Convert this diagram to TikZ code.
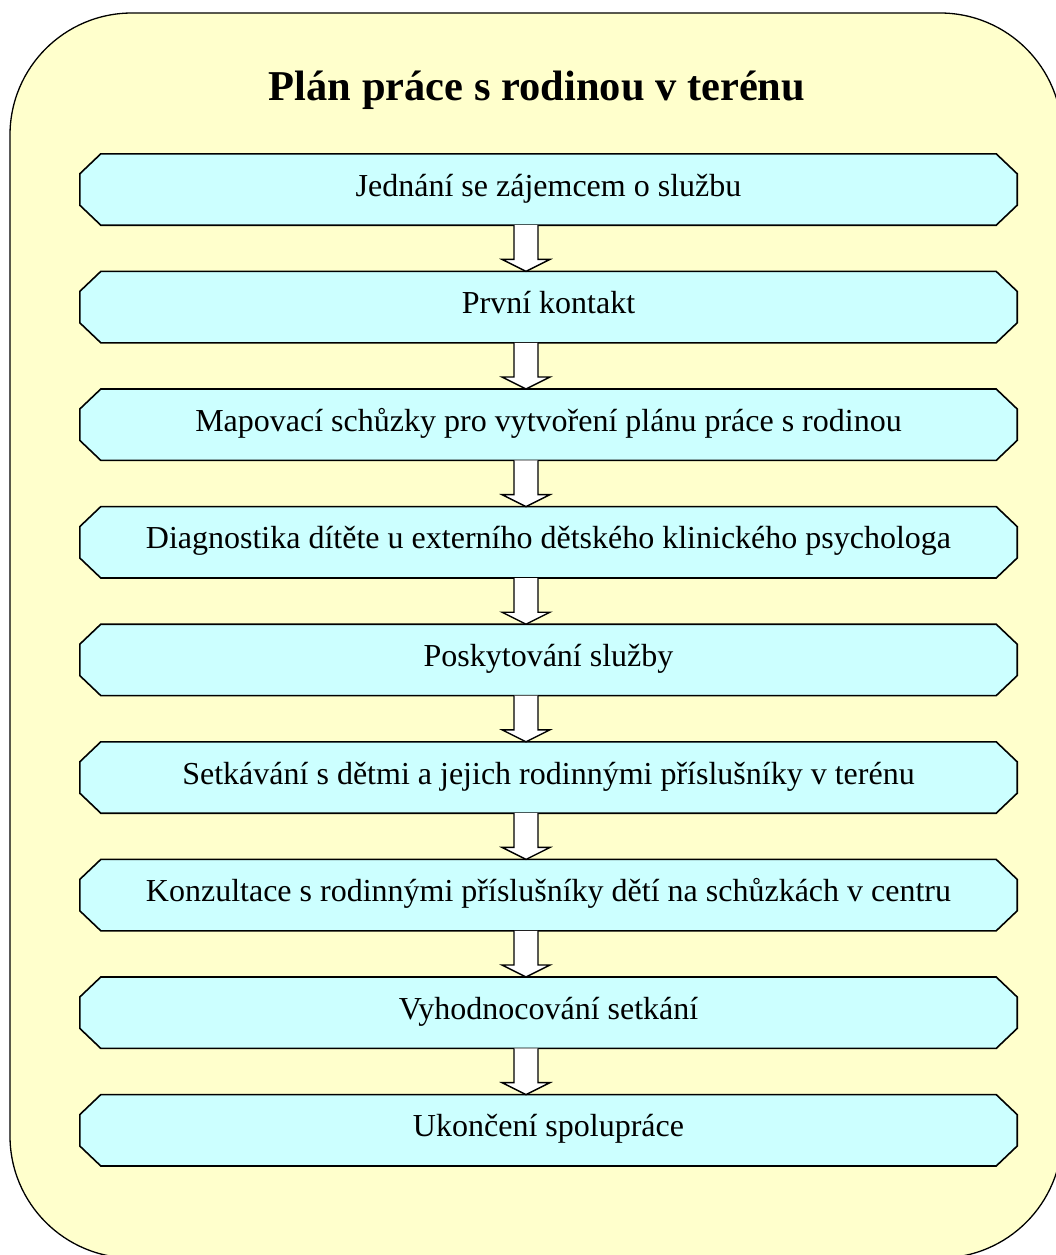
\documentclass[tikz,border=0pt]{standalone}
\usepackage{fontspec}
\setmainfont{Liberation Serif}
\usepackage{tikz}
\usetikzlibrary{backgrounds}

\definecolor{pozadi}{HTML}{FFFFCC}
\definecolor{tyrkys}{HTML}{CCFFFF}

\tikzset{
  krok/.style={rectangle, minimum width=937pt, minimum height=71pt,
    text height=20pt, text depth=7pt, font=\fontsize{32}{38}\selectfont},
  okraj/.style={draw=black, line width=1.6pt, fill=tyrkys, line join=miter},
  sipka/.style={draw=black, line width=1.4pt, fill=white, line join=miter}
}

\begin{document}
\begin{tikzpicture}[x=1pt,y=-1pt]
        \tikzstyle{every node}+=[inner sep=0pt]
        \useasboundingbox (0,0) rectangle (1056,1255);
        \clip (0,0) rectangle (1056,1255);
        \node [font=\bfseries\fontsize{42.5}{50}\selectfont, anchor=base] (nadpis) at (537,100) {Plán práce s rodinou v terénu};
        \node [krok] (zajemce) at (548.5,189.5) {Jednání se zájemcem o službu};
        \node [krok] (kontakt) at (548.5,307.1) {První kontakt};
        \node [krok] (mapovani) at (548.5,424.7) {Mapovací schůzky pro vytvoření plánu práce s rodinou};
        \node [krok] (diagnostika) at (548.5,542.3) {Diagnostika dítěte u externího dětského klinického psychologa};
        \node [krok] (sluzba) at (548.5,659.9) {Poskytování služby};
        \node [krok] (setkavani) at (548.5,777.5) {Setkávání s dětmi a jejich rodinnými příslušníky v terénu};
        \node [krok] (konzultace) at (548.5,895.1) {Konzultace s rodinnými příslušníky dětí na schůzkách v centru};
        \node [krok] (vyhodnoceni) at (548.5,1012.7) {Vyhodnocování setkání};
        \node [krok] (ukonceni) at (548.5,1130.3) {Ukončení spolupráce};
        \begin{scope}[on background layer]
        \draw [black, line width=1.3pt, fill=pozadi, rounded corners=122pt] (10,13) rectangle (1062,1258);
        % zkosené rámečky kroků
        \foreach \k in {zajemce,kontakt,mapovani,diagnostika,sluzba,setkavani,konzultace,vyhodnoceni,ukonceni}
          \draw [okraj] ([xshift=21pt]\k.north west) -- ([xshift=-21pt]\k.north east) -- ([yshift=-20pt]\k.north east) -- ([yshift=20pt]\k.south east) -- ([xshift=-21pt]\k.south east) -- ([xshift=21pt]\k.south west) -- ([yshift=20pt]\k.south west) -- ([yshift=-20pt]\k.north west) -- cycle;
        \end{scope}
        % duté šipky mezi kroky
        \draw [sipka] ([xshift=-34.5pt]zajemce.south) -- ([xshift=-34.5pt,yshift=12pt]kontakt.north) -- ([xshift=-46.5pt,yshift=12pt]kontakt.north) -- ([xshift=-22.5pt]kontakt.north) -- ([xshift=1.5pt,yshift=12pt]kontakt.north) -- ([xshift=-10.5pt,yshift=12pt]kontakt.north) -- ([xshift=-10.5pt]zajemce.south);
        \draw [sipka] ([xshift=-34.5pt]kontakt.south) -- ([xshift=-34.5pt,yshift=12pt]mapovani.north) -- ([xshift=-46.5pt,yshift=12pt]mapovani.north) -- ([xshift=-22.5pt]mapovani.north) -- ([xshift=1.5pt,yshift=12pt]mapovani.north) -- ([xshift=-10.5pt,yshift=12pt]mapovani.north) -- ([xshift=-10.5pt]kontakt.south);
        \draw [sipka] ([xshift=-34.5pt]mapovani.south) -- ([xshift=-34.5pt,yshift=12pt]diagnostika.north) -- ([xshift=-46.5pt,yshift=12pt]diagnostika.north) -- ([xshift=-22.5pt]diagnostika.north) -- ([xshift=1.5pt,yshift=12pt]diagnostika.north) -- ([xshift=-10.5pt,yshift=12pt]diagnostika.north) -- ([xshift=-10.5pt]mapovani.south);
        \draw [sipka] ([xshift=-34.5pt]diagnostika.south) -- ([xshift=-34.5pt,yshift=12pt]sluzba.north) -- ([xshift=-46.5pt,yshift=12pt]sluzba.north) -- ([xshift=-22.5pt]sluzba.north) -- ([xshift=1.5pt,yshift=12pt]sluzba.north) -- ([xshift=-10.5pt,yshift=12pt]sluzba.north) -- ([xshift=-10.5pt]diagnostika.south);
        \draw [sipka] ([xshift=-34.5pt]sluzba.south) -- ([xshift=-34.5pt,yshift=12pt]setkavani.north) -- ([xshift=-46.5pt,yshift=12pt]setkavani.north) -- ([xshift=-22.5pt]setkavani.north) -- ([xshift=1.5pt,yshift=12pt]setkavani.north) -- ([xshift=-10.5pt,yshift=12pt]setkavani.north) -- ([xshift=-10.5pt]sluzba.south);
        \draw [sipka] ([xshift=-34.5pt]setkavani.south) -- ([xshift=-34.5pt,yshift=12pt]konzultace.north) -- ([xshift=-46.5pt,yshift=12pt]konzultace.north) -- ([xshift=-22.5pt]konzultace.north) -- ([xshift=1.5pt,yshift=12pt]konzultace.north) -- ([xshift=-10.5pt,yshift=12pt]konzultace.north) -- ([xshift=-10.5pt]setkavani.south);
        \draw [sipka] ([xshift=-34.5pt]konzultace.south) -- ([xshift=-34.5pt,yshift=12pt]vyhodnoceni.north) -- ([xshift=-46.5pt,yshift=12pt]vyhodnoceni.north) -- ([xshift=-22.5pt]vyhodnoceni.north) -- ([xshift=1.5pt,yshift=12pt]vyhodnoceni.north) -- ([xshift=-10.5pt,yshift=12pt]vyhodnoceni.north) -- ([xshift=-10.5pt]konzultace.south);
        \draw [sipka] ([xshift=-34.5pt]vyhodnoceni.south) -- ([xshift=-34.5pt,yshift=12pt]ukonceni.north) -- ([xshift=-46.5pt,yshift=12pt]ukonceni.north) -- ([xshift=-22.5pt]ukonceni.north) -- ([xshift=1.5pt,yshift=12pt]ukonceni.north) -- ([xshift=-10.5pt,yshift=12pt]ukonceni.north) -- ([xshift=-10.5pt]vyhodnoceni.south);
\end{tikzpicture}
\end{document}
